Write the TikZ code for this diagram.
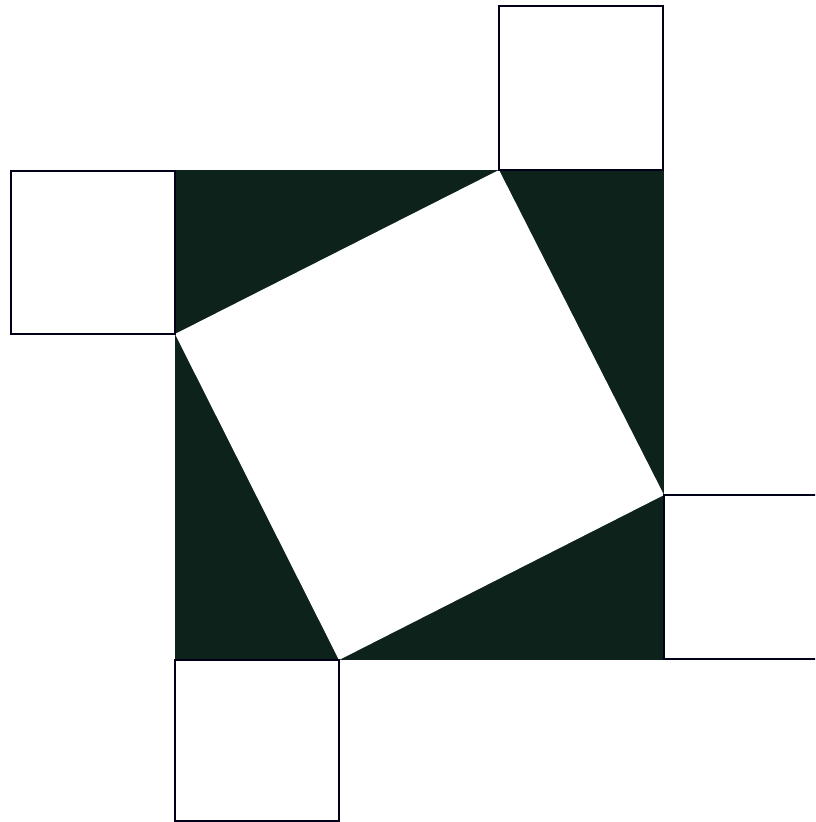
\documentclass[tikz,border=0pt]{standalone}
\begin{document}
\begin{tikzpicture}[x=1pt,y=-1pt,
  sq/.style={draw=black!90!blue,line width=2.8pt,fill=white}]
\definecolor{dk}{HTML}{0C221A}
\useasboundingbox (0,0) rectangle (815,822);
\clip (0,0) rectangle (815,822);
% big dark square
\fill[dk] (175,170) rectangle (664,660);
% inner tilted white square
\fill[white] (499,170) -- (664,495) -- (339,660) -- (175,334) -- cycle;
% small squares
\draw[sq] (499,6) rectangle (663,170);
\draw[sq] (11,171) rectangle (175,334);
\draw[sq] (664,495) rectangle (830,659);
\draw[sq] (175,660) rectangle (339,821);
\end{tikzpicture}
\end{document}
